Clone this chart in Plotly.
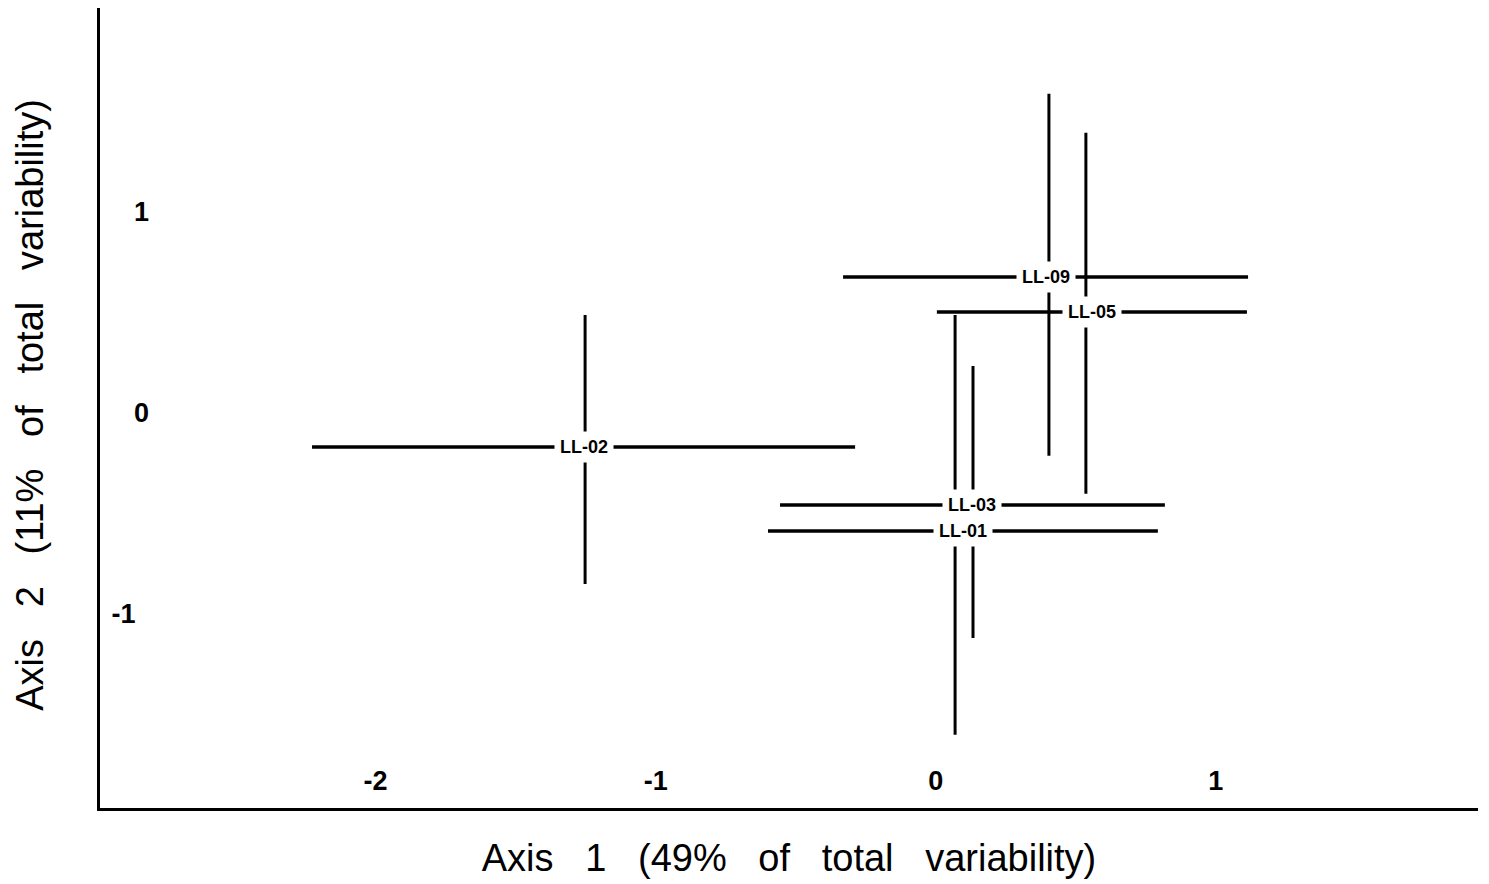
import plotly.graph_objects as go

# Data (ordination scores, axis units)
groups = ["LL-09", "LL-05", "LL-03", "LL-01", "LL-02"]
x_center = [0.404, 0.536, 0.133, 0.069, -1.252]
y_center = [0.675, 0.501, -0.459, -0.589, -0.171]
x_low = [-0.331, 0.004, -0.556, -0.599, -2.227]
x_high = [1.115, 1.111, 0.818, 0.793, -0.288]
y_low = [-0.215, -0.404, -1.121, -1.603, -0.852]
y_high = [1.586, 1.392, 0.232, 0.486, 0.486]

x_ticks = [-2, -1, 0, 1]
x_ticktext = ["-2", "-1", "0", "1"]
y_ticks = [-1, 0, 1]
y_ticktext = ["-1", "\u00a0\u00a0\u00a00", "\u00a0\u00a0\u00a01"]

FONT = "Liberation Sans, Arial, sans-serif"
GAP = " \u00a0\u00a0"
x_title = "Axis" + GAP + "1" + GAP + "(49%" + GAP + "of" + GAP + "total" + GAP + "variability)"
y_title = "Axis" + GAP + "2" + GAP + "(11%" + GAP + "of" + GAP + "total" + GAP + "variability)"

fig = go.Figure()

# vertical bars
fig.add_trace(go.Scatter(
    x=x_center, y=y_center, mode="markers",
    marker=dict(size=1, color="rgba(0,0,0,0)"),
    error_y=dict(type="data", symmetric=False,
                 array=[h - c for h, c in zip(y_high, y_center)],
                 arrayminus=[c - l for c, l in zip(y_center, y_low)],
                 width=0, thickness=3, color="black"),
    showlegend=False, hoverinfo="skip"))

# horizontal bars
fig.add_trace(go.Scatter(
    x=x_center, y=y_center, mode="markers",
    marker=dict(size=1, color="rgba(0,0,0,0)"),
    error_x=dict(type="data", symmetric=False,
                 array=[h - c for h, c in zip(x_high, x_center)],
                 arrayminus=[c - l for c, l in zip(x_center, x_low)],
                 width=0, thickness=3.5, color="black"),
    showlegend=False, hoverinfo="skip"))

# labels centred on the horizontal bar
for g, lo, hi, yc in zip(groups, x_low, x_high, y_center):
    fig.add_annotation(x=(lo + hi) / 2, y=yc, text="<b>" + g + "</b>",
                       showarrow=False, bgcolor="white", borderpad=5,
                       font=dict(family=FONT, size=18, color="black"))

# y-axis title
fig.add_annotation(xref="paper", yref="paper", x=-0.0508, y=0.504,
                   text=y_title, textangle=-90, showarrow=False,
                   xanchor="center", yanchor="middle",
                   font=dict(family=FONT, size=38, color="black"))

fig.update_layout(
    width=1489, height=884,
    paper_bgcolor="white", plot_bgcolor="white",
    margin=dict(l=100, r=11, t=8, b=76),
    font=dict(family=FONT, color="black"),
)

fig.update_xaxes(
    range=[-2.984, 1.936], showgrid=False, zeroline=False, automargin=False,
    showline=True, linecolor="black", linewidth=3,
    tickmode="array", tickvals=x_ticks, ticktext=["<b>" + t + "</b>" for t in x_ticktext],
    ticks="", ticklabelposition="inside", ticklabelstandoff=15,
    tickfont=dict(size=27, family=FONT, color="black"),
    title=dict(text=x_title, font=dict(size=38, family=FONT, color="black"), standoff=50),
)
fig.update_yaxes(
    range=[-1.967, 2.013], showgrid=False, zeroline=False, automargin=False,
    showline=True, linecolor="black", linewidth=3,
    tickmode="array", tickvals=y_ticks, ticktext=["<b>" + t + "</b>" for t in y_ticktext],
    ticks="", ticklabelposition="inside", ticklabelstandoff=14,
    tickfont=dict(size=27, family=FONT, color="black"),
)

fig.write_html("out.html")
